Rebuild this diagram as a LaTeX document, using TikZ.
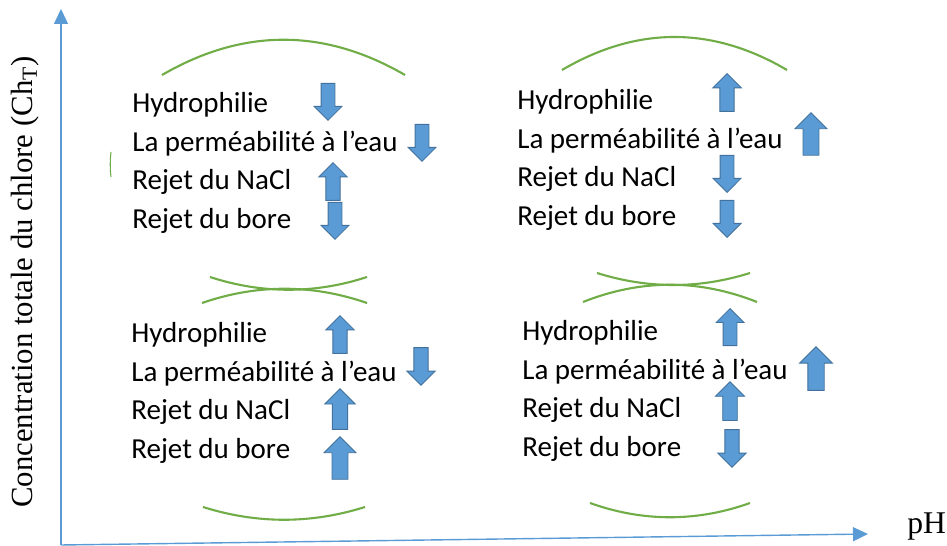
\documentclass[tikz,border=0pt]{standalone}
\usepackage{fontspec}
\setmainfont{Liberation Serif}
\newfontfamily\propfont{Carlito}
\usetikzlibrary{arrows.meta}
\usetikzlibrary{shapes.arrows}
\definecolor{axisblue}{RGB}{91,155,213}
\definecolor{arrowfill}{RGB}{91,155,213}
\definecolor{arrowline}{RGB}{65,113,156}
\definecolor{arcgreen}{RGB}{112,173,71}

\begin{document}
\begin{tikzpicture}[x=0.02cm,y=-0.02cm,
  axisline/.style={axisblue,line width=0.8pt,-{Triangle[length=0.3cm,width=0.28cm]}},
  greenarc/.style={arcgreen,line width=1.2pt},
  prop/.style={anchor=base west,inner sep=0pt,font=\propfont\fontsize{16.5}{20}\selectfont},
  blockarrow/.style={single arrow,draw=arrowline,fill=arrowfill,line width=0.5pt,inner sep=0.13cm,
    minimum width=0.54cm,minimum height=0.74cm,single arrow head extend=0.14cm,anchor=tip}]

  \useasboundingbox (0,0) rectangle (947,546);

  % axes
  \coordinate (origin) at (61,545);
  \coordinate (ytop) at (61,9);
  \coordinate (xend) at (868,534);
  \draw [axisline] (origin) -- (ytop);
  \draw [axisline] (origin) -- (xend);
  \node [rotate=90,font=\fontsize{17.5}{20}\selectfont] (ylabel) at (25,282) {Concentration totale du chlore (Ch\textsubscript{T})};
  \node [anchor=base west,inner sep=0pt,font=\fontsize{18}{20}\selectfont] (xlabel) at (907,534) {pH};

  % labels of the four zones
  \foreach \bx/\by/\bn in {132/113/tl, 517/110/tr, 131/343/bl, 522/341/br}{
    \node [prop] (\bn-hydro) at (\bx,\by) {Hydrophilie};
    \node [prop] (\bn-perm) at (\bx,\by+38.5) {La perméabilité à l’eau};
    \node [prop] (\bn-nacl) at (\bx,\by+77) {Rejet du NaCl};
    \node [prop] (\bn-bore) at (\bx,\by+115.5) {Rejet du bore};
  }

  % up (90) and down (-90) arrows
  \foreach \ax/\ay/\ang/\sz [count=\i] in {
    328/121/-90/1, 422/162/-90/1, 333/162/90/1.02, 335/240/-90/1,
    727/73/90/1.02, 811/112/90/1.15, 727/193/-90/1, 727/238/-90/1,
    340/315/90/1.02, 421/386/-90/1.02, 340/388/90/1.1, 340/436/90/1.15,
    730/308/90/1, 816/346/90/1.18, 730/381/90/1.05, 732/468/-90/1.02}
  {
    \node [blockarrow,rotate=\ang,scale=\sz] (arrow\i) at (\ax,\ay) {};
  }

  % green brackets
  \draw [greenarc] (162,75) .. controls (243,28) and (324,28) .. (405,75);
  \draw [greenarc] (562,70) .. controls (637,26) and (712,26) .. (787,70);
  \draw [greenarc,line width=0.6pt] (111,152) .. controls (110,161) and (110,168) .. (111,177);
  \draw [greenarc] (210,277) .. controls (262,294) and (315,294) .. (367,277);
  \draw [greenarc] (202,303) .. controls (257,284) and (312,284) .. (367,303);
  \draw [greenarc] (597,273) .. controls (648,289) and (699,289) .. (750,273);
  \draw [greenarc] (583,302) .. controls (641,279) and (699,279) .. (757,302);
  \draw [greenarc] (203,507) .. controls (257,524) and (311,524) .. (365,507);
  \draw [greenarc] (590,503) .. controls (643,522) and (697,522) .. (750,503);

\end{tikzpicture}
\end{document}
